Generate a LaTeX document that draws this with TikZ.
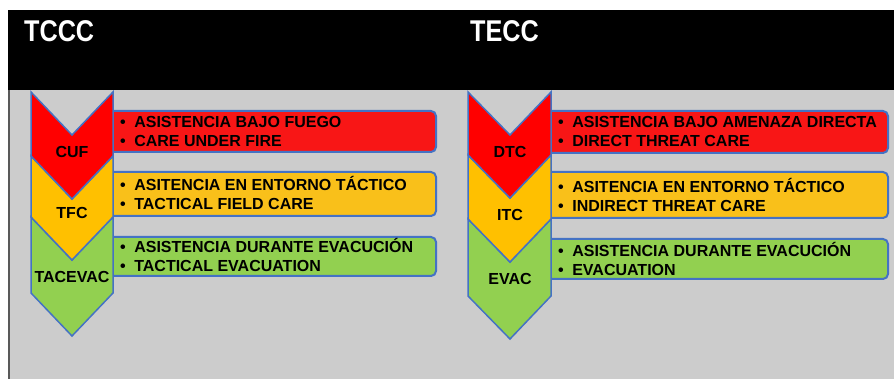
\documentclass[tikz,border=0pt]{standalone}
\usepackage{fontspec}
\setmainfont{Liberation Sans}
\usetikzlibrary{calc}

\definecolor{edgeblue}{RGB}{68,114,196}
\definecolor{cufred}{RGB}{255,0,0}
\definecolor{boxred}{RGB}{248,22,22}
\definecolor{tfcyellow}{RGB}{255,192,0}
\definecolor{boxyellow}{RGB}{249,192,26}
\definecolor{evacgreen}{RGB}{146,208,80}
\definecolor{panelgray}{RGB}{204,204,204}

\begin{document}
\begin{tikzpicture}
        [
        x=1pt, y=-1pt,
        chev/.style={draw=edgeblue,line width=1.5pt,line join=miter},
        bar/.style={draw=edgeblue,line width=2pt,rounded corners=5pt},
        lbl/.style={font=\bfseries\fontsize{16}{19}\selectfont,inner sep=0pt},
        txt/.style={font=\bfseries\fontsize{16}{19}\selectfont,align=left,anchor=west,inner sep=0pt},
        title/.style={font=\bfseries\fontsize{30}{30}\selectfont,text=white,anchor=base west,inner sep=0pt,xscale=0.84}
        ]
        \useasboundingbox (0,0) rectangle (894,379);
        \fill[panelgray] (8,90) rectangle (894,379);
        \fill[black] (8,10) rectangle (894,90);
        \draw[black!65,line width=1.5pt] (8.75,90) -- (8.75,379);

        \node[title] (tccc) at (24,42) {TCCC};
        \node[title] (tecc) at (470,42) {TECC};

        % left column: bars
        \draw[bar,fill=boxred]    (105,111) rectangle (436,152);
        \draw[bar,fill=boxyellow] (105,172) rectangle (436,216);
        \draw[bar,fill=evacgreen] (105,237) rectangle (436,276);

        % left column: chevrons
        \draw[chev,fill=evacgreen] (31,217) -- (72,260) -- (113,217) -- (113,293) -- (72,336) -- (31,293) -- cycle;
        \draw[chev,fill=tfcyellow] (31,156) -- (72,199) -- (113,156) -- (113,217) -- (72,260) -- (31,217) -- cycle;
        \draw[chev,fill=cufred]    (31,92) -- (72,135) -- (113,92) -- (113,156) -- (72,199) -- (31,156) -- cycle;

        \node[lbl] (cuf) at (72,152) {CUF};
        \node[lbl] (tfc) at (72,213) {TFC};
        \node[lbl] (tacevac) at (72,276.5) {TACEVAC};

        \node[txt] (cuftxt) at (120,130) {\textbullet\hspace{8.5pt}ASISTENCIA BAJO FUEGO\vphantom{Á}\\
                \textbullet\hspace{8.5pt}CARE UNDER FIRE};
        \node[txt] (tfctxt) at (120,193) {\textbullet\hspace{8.5pt}ASITENCIA EN ENTORNO TÁCTICO\\
                \textbullet\hspace{8.5pt}TACTICAL FIELD CARE};
        \node[txt] (tacevactxt) at (120,254.5) {\textbullet\hspace{8.5pt}ASISTENCIA DURANTE EVACUCIÓN\\
                \textbullet\hspace{8.5pt}TACTICAL EVACUATION};

        % right column: bars
        \draw[bar,fill=boxred]    (543,111) rectangle (888,153);
        \draw[bar,fill=boxyellow] (543,172) rectangle (888,218);
        \draw[bar,fill=evacgreen] (543,239) rectangle (888,279);

        % right column: chevrons
        \draw[chev,fill=evacgreen] (468,219) -- (510,262) -- (551,219) -- (551,296) -- (510,339) -- (468,296) -- cycle;
        \draw[chev,fill=tfcyellow] (468,155) -- (510,198) -- (551,155) -- (551,219) -- (510,262) -- (468,219) -- cycle;
        \draw[chev,fill=cufred]    (468,92) -- (510,135) -- (551,92) -- (551,155) -- (510,198) -- (468,155) -- cycle;

        \node[lbl] (dtc) at (510,152) {DTC};
        \node[lbl] (itc) at (510,215) {ITC};
        \node[lbl] (evac) at (510,279) {EVAC};

        \node[txt] (dtctxt) at (558,130) {\textbullet\hspace{8.5pt}ASISTENCIA BAJO AMENAZA DIRECTA\vphantom{Á}\\
                \textbullet\hspace{8.5pt}DIRECT THREAT CARE};
        \node[txt] (itctxt) at (558,194.5) {\textbullet\hspace{8.5pt}ASITENCIA EN ENTORNO TÁCTICO\\
                \textbullet\hspace{8.5pt}INDIRECT THREAT CARE};
        \node[txt] (evactxt) at (558,258.5) {\textbullet\hspace{8.5pt}ASISTENCIA DURANTE EVACUCIÓN\\
                \textbullet\hspace{8.5pt}EVACUATION};
\end{tikzpicture}
\end{document}
